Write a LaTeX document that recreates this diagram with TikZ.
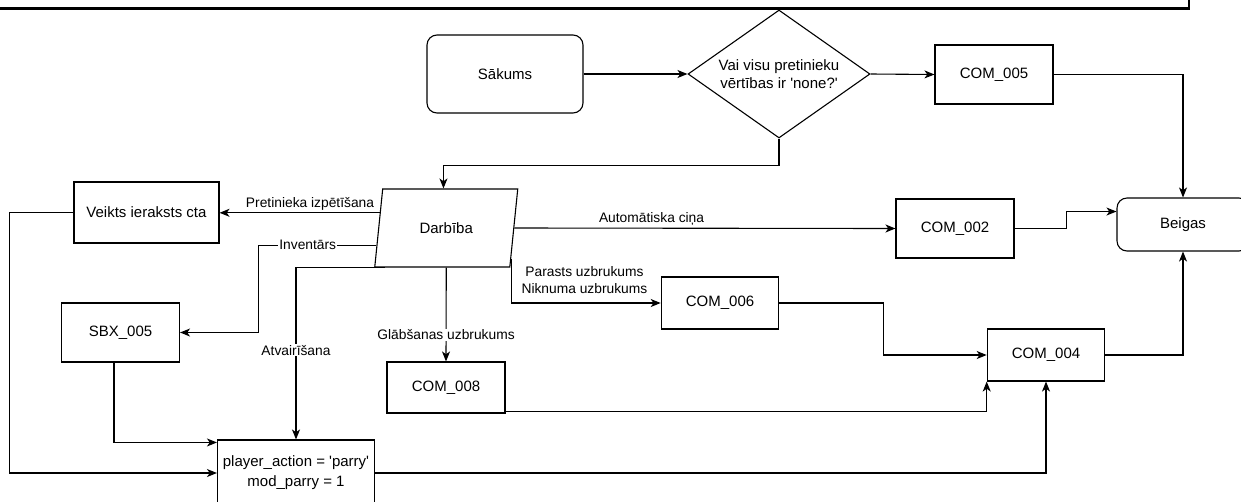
\documentclass[tikz,border=0pt]{standalone}
\usepackage{fontspec}
\setmainfont{Liberation Sans}[Ligatures=TeXOff]
\usetikzlibrary{arrows.meta,shapes.geometric,calc}

\begin{document}
\begin{tikzpicture}[x=1pt,y=-1pt,
  every node/.style={font=\fontsize{15}{18}\selectfont, text=black},
  box/.style={draw, line width=1.1pt, rectangle, inner sep=0pt, align=center},
  term/.style={box, rounded corners=10pt},
  conn/.style={line width=1.1pt, -{Stealth[length=10pt,width=8pt,inset=2.8pt]}},
  lbl/.style={font=\fontsize{13.8}{17}\selectfont, inner sep=1pt, align=center},
  onl/.style={lbl, fill=white}
]
\useasboundingbox (0,0) rectangle (1241,501);
\clip (0,0) rectangle (1241,501);

% frame edge along the top
\draw[line width=2.6pt] (-3,8.5) -- (1189,8.5) -- (1189,-3);

% nodes
\node[term, minimum width=156pt, minimum height=78pt] (sak) at (505,74) {Sākums};
\node[draw, diamond, aspect=1.42, line width=1.1pt, inner sep=0pt, minimum width=182pt,
      minimum height=128pt, align=center, font=\fontsize{15}{18}\selectfont]
      (dia) at (779,74) {Vai visu pretinieku\\vērtības ir 'none?'};
\node[box, minimum width=118pt, minimum height=59pt] (com5) at (994,74.5) {COM\_005};
\node[term, minimum width=132pt, minimum height=53pt] (beig) at (1183,224.5) {Beigas};
\node[draw, trapezium, line width=1.1pt, trapezium left angle=73.2,
      trapezium right angle=106.8, trapezium stretches=true,
      minimum width=143.5pt, minimum height=78pt, inner sep=0pt]
      (darb) at (446.25,228) {Darbība};
\node[box, minimum width=145pt, minimum height=61pt] (veik) at (146.5,212.5) {Veikts ieraksts cta};
\node[box, minimum width=118pt, minimum height=59pt] (com2) at (955,228.5) {COM\_002};
\node[box, minimum width=118pt, minimum height=59pt] (sbx) at (120.5,332.5) {SBX\_005};
\node[box, minimum width=117.5pt, minimum height=52pt] (com6) at (720,303) {COM\_006};
\node[box, minimum width=118pt, minimum height=51pt] (com8) at (446,387.5) {COM\_008};
\node[box, minimum width=117.5pt, minimum height=52pt] (com4) at (1046,355) {COM\_004};
\node[box, minimum width=157pt, minimum height=66pt, font=\fontsize{15}{20}\selectfont]
      (play) at (296,473) {player\_action = 'parry'\\mod\_parry = 1};

% attachment points on the parallelogram
\coordinate (dTop)  at ($(darb.top left corner)!0.45!(darb.top right corner)$);
\coordinate (dPret) at ($(darb.top left corner)!0.3077!(darb.bottom left corner)$);
\coordinate (dInv)  at ($(darb.top left corner)!0.718!(darb.bottom left corner)$);
\coordinate (dAtv)  at ($(darb.bottom left corner)!0.08!(darb.bottom right corner)$);
\coordinate (dAuto) at ($(darb.top right corner)!0.5!(darb.bottom right corner)$);
\coordinate (dPar)  at ($(darb.top right corner)!0.894!(darb.bottom right corner)$);

% connectors
\draw[conn] (sak.east) -- (dia.west);
\draw[conn] (dia.east) -- (com5.west);
\draw[conn] (dia.south) -- ++(0,27) -| (dTop);
\draw[conn] (com5.east) -| (beig.north);
\draw[conn] (com2.east) -- ([xshift=52pt]com2.east)
            |- ($(beig.north west)!0.26!(beig.south west)$);
\draw[conn] (dAuto) -- node[lbl, pos=0.36, above=1pt] {Automātiska ciņa} (com2.west);
\draw[conn] (dPret) -- node[lbl, pos=0.435, above=1pt] {Pretinieka izpētīšana} (dPret -| veik.east);
\draw[conn] (veik.west) -- ([xshift=-64pt]veik.west) |- (play.west);
\draw[conn] (dInv) -- node[onl, pos=0.58] {Inventārs} ([xshift=78pt]sbx.east |- dInv) |- (sbx.east);
\draw[conn] (dAtv) -| node[onl, pos=0.74] {Atvairīšana} (play.north);
\draw[conn] (darb.south) -- node[onl, pos=0.716] {Glābšanas uzbrukums} (com8.north);
\draw[conn] (dPar) |- node[lbl, pos=0.745, above=8pt] {Parasts uzbrukums\\Niknuma uzbrukums} (com6.west);
\draw[conn] (com6.east) -- ([xshift=104.5pt]com6.east) |- (com4.west);
\draw[conn] ([yshift=2pt]com8.south east) -| (com4.south west);
\draw[conn] (play.east) -| (com4.south);
\draw[conn] (com4.east) -| (beig.south);
\draw[conn] ([xshift=-6.5pt]sbx.south) |- ([yshift=-3pt]play.north west);
\end{tikzpicture}
\end{document}
